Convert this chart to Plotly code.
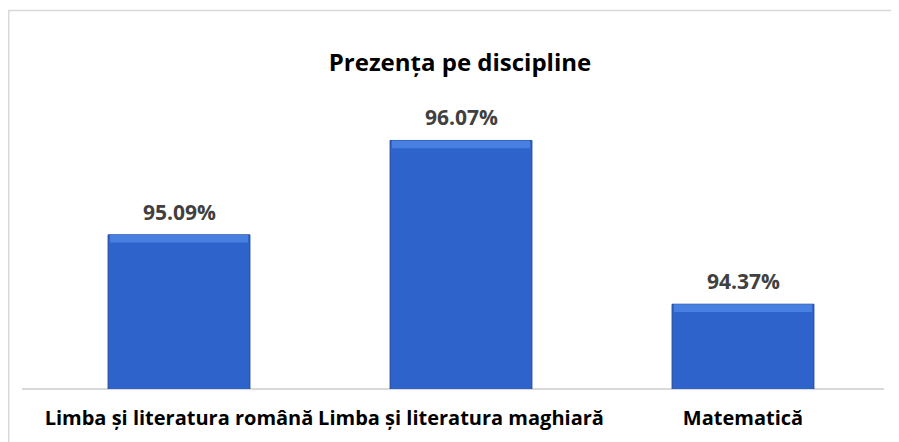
import plotly.graph_objects as go

categories = ["Limba și literatura română", "Limba și literatura maghiară", "Matematică"]
values = [95.09, 96.07, 94.37]
value_labels = [f"{v:.2f}%" for v in values]

# page is rendered with an 8px body margin, so the figure is sized to fit the window
W, H = 891, 434
ml, mr, mt, mb = 30, 15, 92, 53
pw = W - ml - mr
ph = H - mt - mb
bevel = 0.08  # depth of the lighter bevel strip at the top of each bar (axis units)

fig = go.Figure()
fig.add_trace(go.Bar(
    x=categories, y=values, width=0.503,
    marker=dict(color="#2E63CB", line=dict(color="#23489A", width=1)),
    hoverinfo="skip",
))
fig.add_trace(go.Bar(
    x=categories, y=[bevel] * len(values), base=[v - bevel for v in values],
    width=0.49,
    marker=dict(color="#4780E0", line=dict(width=0)),
    hoverinfo="skip",
))

for c, v, t in zip(categories, values, value_labels):
    fig.add_annotation(x=c, y=v, text=f"<b>{t}</b>", showarrow=False,
                       yshift=23, yanchor="middle",
                       font=dict(family="Open Sans", size=21, color="#404040"))

fig.add_shape(type="rect", xref="paper", yref="paper",
              x0=(0.75 - ml) / pw, x1=(W + 20 - ml) / pw,
              y0=-1.0, y1=(H - mb - 2.5) / ph,
              line=dict(color="#D9D9D9", width=1.5), fillcolor="rgba(0,0,0,0)", layer="below")
fig.add_shape(type="line", xref="paper", yref="paper",
              x0=(14 - ml) / pw, x1=(876 - ml) / pw, y0=0, y1=0,
              line=dict(color="#D9D9D9", width=2), layer="below")

fig.update_layout(
    width=W, height=H,
    margin=dict(l=ml, r=mr, t=mt, b=mb),
    paper_bgcolor="white", plot_bgcolor="white",
    showlegend=False,
    barmode="overlay",
    title=dict(text="<b>Prezența pe discipline</b>", x=452 / W, xanchor="center",
               y=1 - 55 / H, yanchor="middle", yref="container",
               font=dict(family="Open Sans", size=24, color="#000000")),
    xaxis=dict(showline=False, showgrid=False, ticks="", zeroline=False,
               tickangle=0,
               tickfont=dict(family="Open Sans", size=20, color="#000000"),
               ticklabelstandoff=15),
    yaxis=dict(range=[93.49, 96.49], visible=False, showgrid=False, zeroline=False),
    bargap=0.497,
)
fig.update_xaxes(tickprefix="<b>", ticksuffix="</b>")

fig.write_html("out.html")
